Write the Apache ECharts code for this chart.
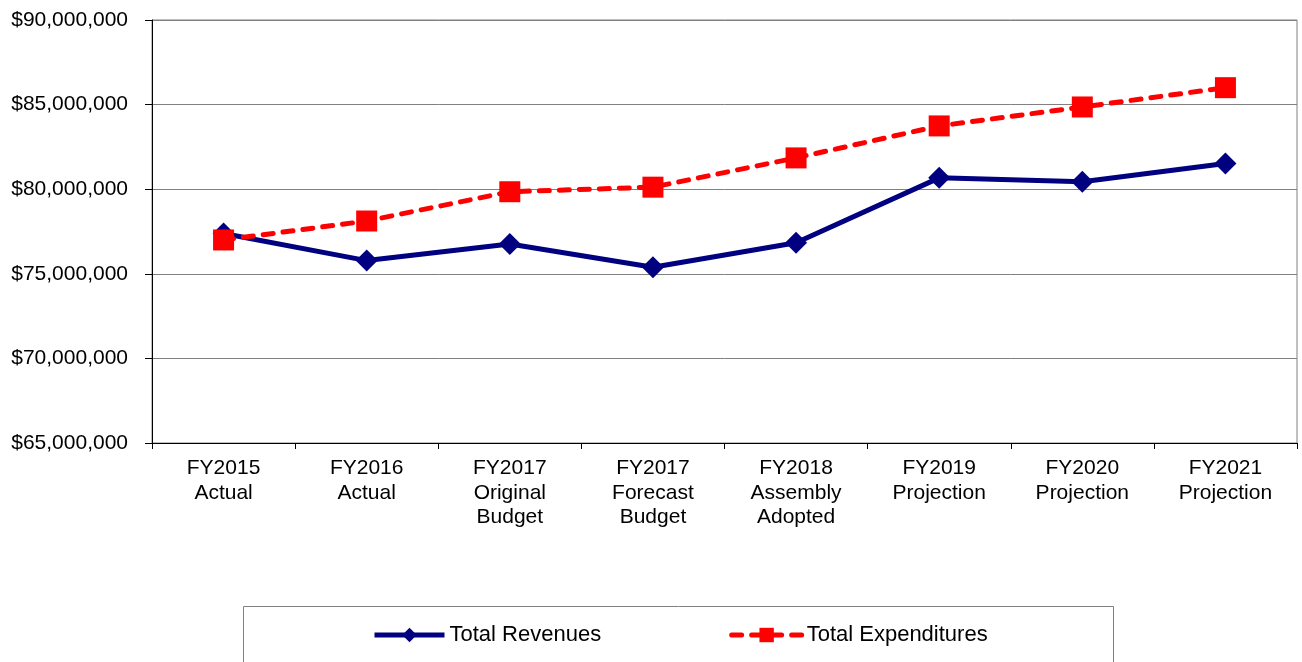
<!DOCTYPE html>
<html>
<head>
<meta charset="utf-8">
<script src="https://cdn.jsdelivr.net/npm/echarts@6/dist/echarts.min.js"></script>
<style>
html, body { margin: 0; padding: 0; background: #fff; }
#main { width: 1302px; height: 662px; }
</style>
</head>
<body>
<div id="main"></div>
<script>
// categories and values
var categories = ['FY2015\nActual', 'FY2016\nActual', 'FY2017\nOriginal\nBudget', 'FY2017\nForecast\nBudget',
	'FY2018\nAssembly\nAdopted', 'FY2019\nProjection', 'FY2020\nProjection', 'FY2021\nProjection'];
var revenues = [77380000, 75780000, 76760000, 75390000, 76840000, 80670000, 80440000, 81520000];
var expenditures = [77000000, 78120000, 79850000, 80120000, 81850000, 83740000, 84860000, 86000000];
var yMin = 65000000, yMax = 90000000, yStep = 5000000;

var chart = echarts.init(document.getElementById('main'));

function money(v) {
	return '$' + String(v).replace(/\B(?=(\d{3})+(?!\d))/g, ',');
}

var font = 'Arial, "Liberation Sans", sans-serif';

var option = {
	animation: false,
	backgroundColor: '#fff',
	grid: {
		left: 152, right: 5, top: 20, height: 423,
		show: true, borderColor: '#808080', borderWidth: 1
	},
	graphic: [{
		type: 'rect',
		left: 241, top: 604,
		shape: { width: 870, height: 70 },
		style: { fill: 'none', stroke: '#808080', lineWidth: 1 },
		silent: true
	}],
	legend: {
		left: 367, top: 619,
		itemWidth: 70, itemHeight: 18,
		itemGap: 128,
		textStyle: { fontFamily: font, fontSize: 22, color: '#000' },
		data: [
			{ name: 'Total Revenues', lineStyle: { width: 5 } },
			{ name: 'Total Expenditures', lineStyle: { width: 5 } }
		]
	},
	xAxis: {
		type: 'category',
		data: categories,
		boundaryGap: true,
		axisLine: { lineStyle: { color: '#000', width: 1 } },
		axisTick: { show: true, length: 6, lineStyle: { color: '#000' } },
		axisLabel: { fontFamily: font, fontSize: 21, color: '#000', lineHeight: 24.5, margin: 13, interval: 0 },
		splitLine: { show: false }
	},
	yAxis: {
		type: 'value',
		min: yMin, max: yMax, interval: yStep,
		axisLine: { show: true, lineStyle: { color: '#000', width: 1 } },
		axisTick: { show: true, length: 7, lineStyle: { color: '#000' } },
		axisLabel: { fontFamily: font, fontSize: 21, color: '#000', margin: 24, formatter: money },
		splitLine: { show: true, lineStyle: { color: '#808080', width: 1 } }
	},
	series: [
		{
			name: 'Total Revenues',
			type: 'line',
			data: revenues,
			symbol: 'diamond',
			symbolSize: 22,
			itemStyle: { color: '#000080' },
			lineStyle: { color: '#000080', width: 5 },
			z: 2
		},
		{
			name: 'Total Expenditures',
			type: 'line',
			data: expenditures,
			symbol: 'rect',
			symbolSize: 21,
			itemStyle: { color: '#ff0000' },
			lineStyle: { color: '#ff0000', width: 5, type: [10, 10], cap: 'round' },
			z: 3
		}
	]
};

chart.setOption(option);
</script>
</body>
</html>
